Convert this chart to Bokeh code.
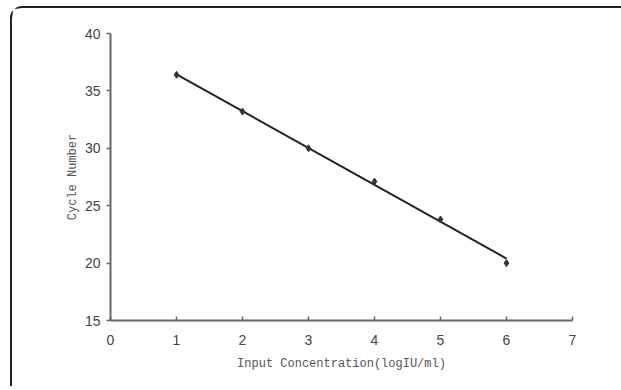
from bokeh.plotting import figure
from bokeh.models import Range1d, FixedTicker
from bokeh.embed import file_html
from bokeh.resources import INLINE

# data
conc = [1, 2, 3, 4, 5, 6]
cycles = [36.4, 33.2, 30.0, 27.1, 23.8, 20.0]
trend_x = [1, 6]
trend_y = [36.45, 20.4]
x_ticks = [0, 1, 2, 3, 4, 5, 6, 7]
y_ticks = [15, 20, 25, 30, 35, 40]

p = figure(width=618, height=380, output_backend="svg", toolbar_location=None,
           x_range=Range1d(0, 7), y_range=Range1d(15, 40),
           min_border_left=98, min_border_top=25, min_border_right=58, min_border_bottom=68,
           styles={"border-top": "2px solid #222", "border-left": "2px solid #222",
                   "border-top-left-radius": "12px", "margin-left": "10px",
                   "margin-top": "6px"})
p.outline_line_color = None
p.xgrid.visible = False
p.ygrid.visible = False

p.line(trend_x, trend_y, line_color="#222222", line_width=2)
p.scatter(conc, cycles, marker="diamond", size=7, fill_color="#333333", line_color="#333333")

for ax in (p.xaxis[0], p.yaxis[0]):
    ax.axis_line_color = "#666666"
    ax.axis_line_width = 2
    ax.major_tick_line_color = "#666666"
    ax.major_tick_line_width = 1.5
    ax.minor_tick_line_color = None
    ax.major_label_text_font = "Liberation Sans"
    ax.major_label_text_font_size = "14px"
    ax.major_label_text_color = "#444444"
    ax.axis_label_text_font = "Liberation Mono"
    ax.axis_label_text_font_size = "12px"
    ax.axis_label_text_font_style = "normal"
    ax.axis_label_text_color = "#555555"

p.xaxis.ticker = FixedTicker(ticks=x_ticks)
p.yaxis.ticker = FixedTicker(ticks=y_ticks)
p.xaxis.major_tick_in = 4
p.xaxis.major_tick_out = 0
p.yaxis.major_tick_in = 0
p.yaxis.major_tick_out = 4
p.xaxis.major_label_standoff = 14
p.yaxis.major_label_standoff = 6
p.xaxis.axis_label = "Input Concentration(logIU/ml)"
p.yaxis.axis_label = "Cycle Number"
p.xaxis.axis_label_standoff = 9
p.yaxis.axis_label_standoff = 2

open("out.html", "w").write(file_html(p, INLINE))
